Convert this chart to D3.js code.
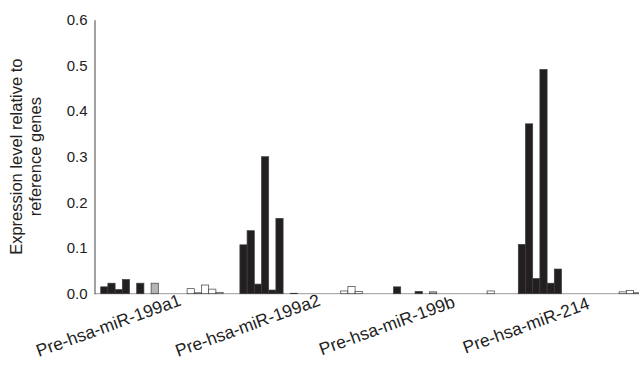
<!DOCTYPE html>
<html>
<head>
<meta charset="utf-8">
<script src="https://cdn.jsdelivr.net/npm/d3@7"></script>
<style>
  body { margin: 0; background: #fff; }
  svg { font-family: "Liberation Sans", Arial, sans-serif; }
</style>
</head>
<body>
<svg width="639" height="375"></svg>
<script>
// data
var genes = ["Pre-hsa-miR-199a1", "Pre-hsa-miR-199a2", "Pre-hsa-miR-199b", "Pre-hsa-miR-214"];
// 18 samples per gene: 0-5 black, 6-7 grey, 8-17 white
var sampleKind = ["black", "black", "black", "black", "black", "black",
                  "grey", "grey",
                  "white", "white", "white", "white", "white", "white", "white", "white", "white", "white"];
var mir199a1 = [0.015, 0.023, 0.009, 0.031, 0, 0.023, 0, 0.023, 0, 0, 0, 0, 0.011, 0.002, 0.019, 0.010, 0.003, 0];
var mir199a2 = [0.107, 0.138, 0.021, 0.300, 0.008, 0.165, 0, 0.001, 0, 0, 0, 0, 0, 0, 0.006, 0.016, 0.005, 0];
var mir199b  = [0, 0, 0.015, 0, 0, 0.005, 0, 0.004, 0, 0, 0, 0, 0, 0, 0, 0.006, 0, 0];
var mir214   = [0.108, 0.372, 0.033, 0.491, 0.023, 0.054, 0, 0, 0, 0, 0, 0, 0, 0, 0.004, 0.007, 0.002, 0];
var yTicks = [0.0, 0.1, 0.2, 0.3, 0.4, 0.5, 0.6];

var series = [mir199a1, mir199a2, mir199b, mir214];

var svg = d3.select("svg");

var x0 = 94.5, groupStep = 139.2, barW = 7.2;

var xGroup = d3.scaleBand()
    .domain(genes)
    .range([x0, x0 + groupStep * genes.length]);

var xBar = d3.scaleBand()
    .domain(d3.range(sampleKind.length))
    .range([6.2, 6.2 + barW * sampleKind.length]);

var y = d3.scaleLinear().domain([0, 0.6]).range([293.7, 19.7]);

var fills = { black: "#231f20", grey: "#b5b5b5", white: "#ffffff" };

// baseline
svg.append("line")
    .attr("x1", x0).attr("x2", 639)
    .attr("y1", y(0)).attr("y2", y(0))
    .attr("stroke", "#9a9a9a")
    .attr("stroke-width", 1);

// bars
genes.forEach(function (g, gi) {
    var grp = svg.append("g")
        .attr("class", "gene")
        .attr("transform", "translate(" + xGroup(g) + ",0)");
    grp.selectAll("rect")
        .data(series[gi])
        .enter().append("rect")
        .attr("x", function (d, i) { return xBar(i); })
        .attr("width", xBar.bandwidth())
        .attr("y", function (d) { return y(d); })
        .attr("height", function (d) { return y(0) - y(d); })
        .attr("fill", function (d, i) { return fills[sampleKind[i]]; })
        .attr("stroke", "#3c3c3c")
        .attr("stroke-width", 0.7);
});

// y axis
var yAxis = d3.axisLeft(y)
    .tickValues(yTicks)
    .tickFormat(d3.format(".1f"))
    .tickSize(0)
    .tickPadding(7);

var ya = svg.append("g")
    .attr("transform", "translate(" + x0 + ",0)")
    .call(yAxis);
ya.select(".domain").attr("stroke", "#444").attr("stroke-width", 1);
ya.selectAll("text")
    .attr("font-size", 15)
    .attr("fill", "#222")
    .attr("font-family", "Liberation Sans, Arial, sans-serif");

// y title
var yMid = (y(0) + y(0.6)) / 2;
svg.append("text")
    .attr("transform", "translate(22," + yMid + ") rotate(-90)")
    .attr("text-anchor", "middle")
    .attr("font-size", 16.5)
    .attr("fill", "#222")
    .text("Expression level relative to");
svg.append("text")
    .attr("transform", "translate(41," + yMid + ") rotate(-90)")
    .attr("text-anchor", "middle")
    .attr("font-size", 16.5)
    .attr("fill", "#222")
    .text("reference genes");

// gene labels
svg.selectAll("text.gene-label")
    .data(genes)
    .enter().append("text")
    .attr("class", "gene-label")
    .attr("transform", function (d) {
        return "translate(" + (xGroup(d) + 16) + ",331) rotate(-20)";
    })
    .attr("text-anchor", "middle")
    .attr("font-size", 17.5)
    .attr("fill", "#222")
    .text(function (d) { return d; });
</script>
</body>
</html>
